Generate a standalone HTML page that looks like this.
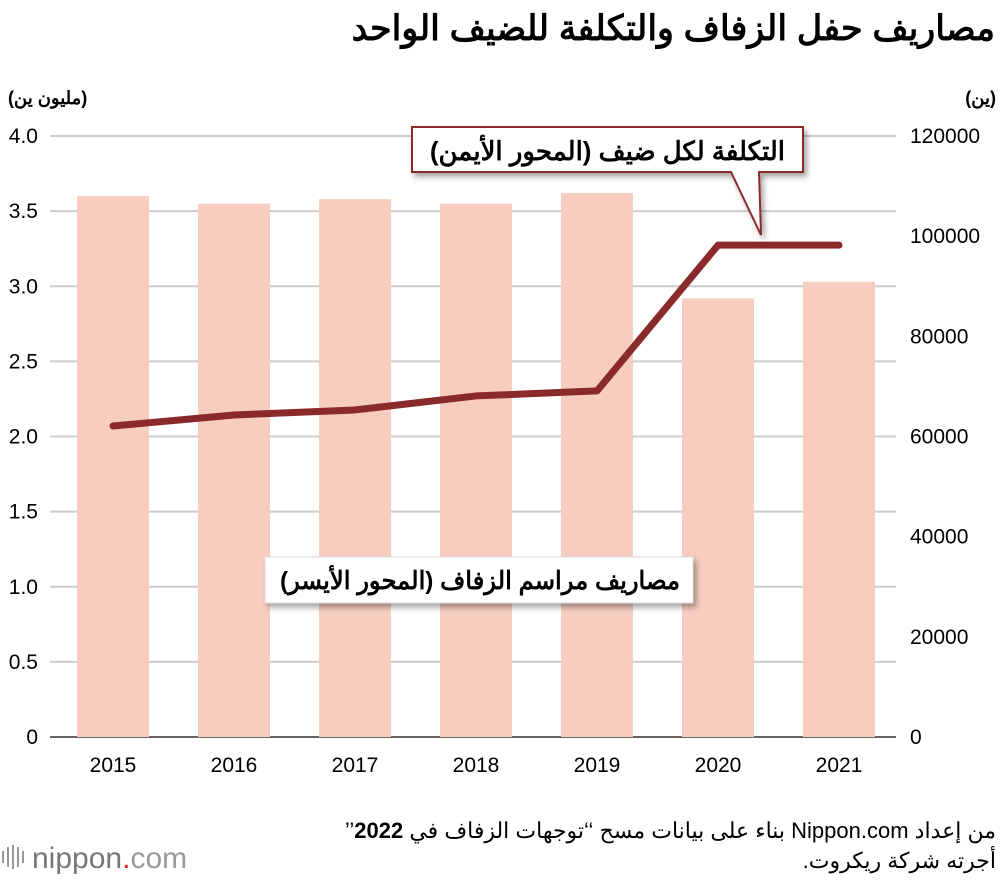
<!DOCTYPE html>
<html><head><meta charset="utf-8"><style>
body{margin:0;background:#fff;width:1000px;height:882px;overflow:hidden;font-family:"Liberation Sans","Noto Sans CJK SC",sans-serif}
</style></head><body>
<svg width="1000" height="882" viewBox="0 0 1000 882">
<defs><filter id="sh" x="-10%" y="-30%" width="130%" height="180%"><feDropShadow dx="3" dy="4" stdDeviation="3" flood-color="#000" flood-opacity="0.35"/></filter></defs>
<text x="995" y="40" text-anchor="start" font-size="35" font-weight="bold" direction="rtl">مصاريف حفل الزفاف والتكلفة للضيف الواحد</text>
<text x="8" y="104" font-size="18" font-weight="bold">(مليون ين)</text>
<text x="996" y="104" text-anchor="end" font-size="18" font-weight="bold">(ين)</text>
<g id="grid"></g><g id="bars"></g><g id="ticks"></g><g id="line"></g>
<g filter="url(#sh)">
<path d="M412,127 H803 V172 H759 L761,235 L731,172 H412 Z" fill="#fff" stroke="#8b2a2a" stroke-width="2"/></g>
<text x="785" y="160" text-anchor="start" font-size="26" font-weight="bold" direction="rtl">التكلفة لكل ضيف (المحور الأيمن)</text>
<g filter="url(#sh)"><rect x="265" y="557" width="428" height="46" fill="#fff" stroke="#ddd"/></g>
<text x="680" y="589" text-anchor="start" font-size="25" textLength="400" lengthAdjust="spacingAndGlyphs" font-weight="bold" direction="rtl">مصاريف مراسم الزفاف (المحور الأيسر)</text>
<text x="996" y="838" text-anchor="start" font-size="22" direction="rtl">من إعداد Nippon.com بناء على بيانات مسح ‘‘توجهات الزفاف في <tspan font-weight="bold">2022</tspan>’’</text>
<text x="996" y="868" text-anchor="start" font-size="22" direction="rtl">أجرته شركة ريكروت.</text>
<g>
<rect x="2" y="851" width="2" height="12" fill="#999"/><rect x="7" y="847" width="2" height="20" fill="#999"/><rect x="12" y="845" width="2" height="24" fill="#999"/><rect x="17" y="847" width="2" height="20" fill="#999"/><rect x="22" y="851" width="2" height="12" fill="#999"/>
<text x="32" y="868" font-size="30" fill="#777">nippon<tspan fill="#e02020">.</tspan><tspan fill="#999">com</tspan></text></g>
</svg>
<script>
const years=["2015","2016","2017","2018","2019","2020","2021"];
const weddingCost=[3.6,3.55,3.58,3.55,3.62,2.92,3.03];
const perGuest=[62100,64300,65300,68100,69100,98200,98200];
const leftTicks=["0","0.5","1.0","1.5","2.0","2.5","3.0","3.5","4.0"];
const rightTicks=["0","20000","40000","60000","80000","100000","120000"];
const NS="http://www.w3.org/2000/svg";
const y0=737,yTop=136,x0=52,step=121,bw=72;
const yL=v=>y0-(v/4)*(y0-yTop), yR=v=>y0-(v/120000)*(y0-yTop), xC=i=>x0+61+i*step;
function mk(t,a,p){const e=document.createElementNS(NS,t);for(const k in a)e.setAttribute(k,a[k]);document.getElementById(p).appendChild(e);return e;}
leftTicks.forEach((t,i)=>{const v=i*0.5,y=yL(v);
 const g=mk("line",{x1:50,x2:896,y1:y,y2:y,stroke:i==0?"#333":"#ccc","stroke-width":i==0?1.5:2},"grid");
 
 
 const tx=mk("text",{x:38,y:y+7,"text-anchor":"end","font-size":21},"ticks");tx.textContent=t;
 
 });
rightTicks.forEach((t,i)=>{const y=yR(i*20000);
 const tx=mk("text",{x:910,y:y+7,"font-size":21},"ticks");tx.textContent=t;
 
 });
years.forEach((yr,i)=>{
 const r=mk("rect",{x:xC(i)-bw/2,y:yL(weddingCost[i]),width:bw,height:y0-yL(weddingCost[i]),fill:"#f7cdbf"},"bars");
 
 
 const tx=mk("text",{x:xC(i),y:772,"text-anchor":"middle","font-size":21},"ticks");tx.textContent=yr;
 
 });
const pl=mk("polyline",{points:perGuest.map((v,i)=>xC(i)+","+yR(v)).join(" "),fill:"none",stroke:"#8b2a2a","stroke-width":7,"stroke-linejoin":"round","stroke-linecap":"round"},"line");


</script>
</body></html>
